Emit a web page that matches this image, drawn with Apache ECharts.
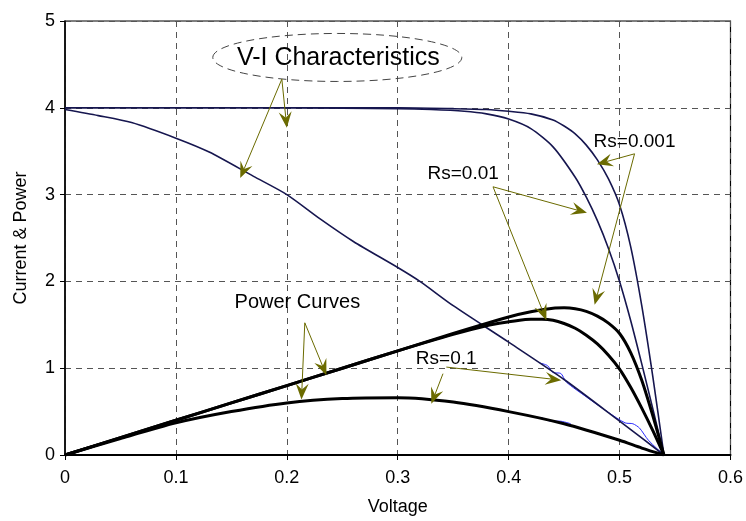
<!DOCTYPE html>
<html><head><meta charset="utf-8">
<script src="https://cdn.jsdelivr.net/npm/echarts@6/dist/echarts.min.js"></script>
<style>html,body{margin:0;padding:0;background:#fff}#c{width:746px;height:521px}</style>
</head><body><div id="c"></div>
<script>
// ---- data ----
const xTickLabels = ['0', '0.1', '0.2', '0.3', '0.4', '0.5', '0.6'];
const yTickLabels = ['0', '1', '2', '3', '4', '5'];

const ivVoltsRs0001 = [0, 0.1, 0.2, 0.3, 0.35, 0.38, 0.4, 0.42, 0.44, 0.45, 0.46, 0.47, 0.48, 0.49, 0.50, 0.51, 0.52, 0.53, 0.54];
const ivAmpsRs0001  = [4.0, 4.0, 4.0, 4.0, 3.99, 3.98, 3.96, 3.93, 3.86, 3.79, 3.70, 3.57, 3.40, 3.18, 2.88, 2.40, 1.72, 0.9, 0];

const ivVoltsRs001 = [0, 0.1, 0.2, 0.3, 0.33, 0.36, 0.38, 0.40, 0.42, 0.44, 0.46, 0.47, 0.48, 0.49, 0.50, 0.51, 0.52, 0.53, 0.54];
const ivAmpsRs001  = [4.0, 4.0, 4.0, 3.99, 3.98, 3.96, 3.93, 3.87, 3.76, 3.55, 3.2, 2.97, 2.7, 2.38, 2.0, 1.55, 1.05, 0.53, 0];

const ivVoltsRs01 = [0, 0.03, 0.06, 0.1, 0.13, 0.17, 0.2, 0.23, 0.26, 0.3, 0.32, 0.35, 0.4, 0.45, 0.5, 0.54];
const ivAmpsRs01  = [3.98, 3.91, 3.83, 3.65, 3.49, 3.21, 3.0, 2.72, 2.46, 2.16, 2.0, 1.72, 1.3, 0.87, 0.39, 0];

const pVoltsRs0001 = [0, 0.05, 0.1, 0.15, 0.2, 0.25, 0.3, 0.35, 0.4, 0.42, 0.44, 0.45, 0.46, 0.47, 0.48, 0.49, 0.50, 0.51, 0.52, 0.53, 0.54];
const powerRs0001  = [0, 0.2, 0.4, 0.6, 0.8, 1.0, 1.2, 1.4, 1.59, 1.65, 1.69, 1.695, 1.685, 1.655, 1.6, 1.52, 1.4, 1.18, 0.86, 0.45, 0];

const pVoltsRs001 = [0, 0.05, 0.1, 0.15, 0.2, 0.25, 0.3, 0.35, 0.38, 0.4, 0.41, 0.42, 0.43, 0.44, 0.45, 0.46, 0.47, 0.48, 0.49, 0.50, 0.51, 0.52, 0.53, 0.54];
const powerRs001  = [0, 0.2, 0.4, 0.6, 0.8, 1.0, 1.2, 1.39, 1.49, 1.535, 1.553, 1.563, 1.565, 1.553, 1.515, 1.46, 1.38, 1.28, 1.15, 0.99, 0.78, 0.54, 0.28, 0];

const pVoltsRs01 = [0, 0.05, 0.1, 0.15, 0.2, 0.25, 0.3, 0.35, 0.4, 0.45, 0.5, 0.52, 0.54];
const powerRs01  = [0, 0.19, 0.37, 0.5, 0.6, 0.65, 0.66, 0.61, 0.5, 0.36, 0.17, 0.08, 0];

// thin blue trace that wiggles along the Rs=0.1 curves
const blueVolts = [0.428, 0.435, 0.44, 0.447, 0.452, 0.47, 0.49, 0.505, 0.512, 0.518, 0.526, 0.54];
const blueAmps  = [1.06, 1.03, 0.95, 0.94, 0.84, 0.67, 0.49, 0.37, 0.36, 0.31, 0.17, 0];
const blueVolts2 = [0.43, 0.438, 0.446, 0.456];
const blueAmps2  = [0.43, 0.39, 0.39, 0.36];

// annotations (data coordinates)
const noteTexts = [
  {text: 'V-I Characteristics', at: [0.2464, 4.57], size: 25},
  {text: 'Rs=0.001', at: [0.5135, 3.605], size: 19},
  {text: 'Rs=0.01', at: [0.359, 3.237], size: 19},
  {text: 'Power Curves', at: [0.2095, 1.752], size: 20},
  {text: 'Rs=0.1', at: [0.3437, 1.111], size: 19}
];
const noteArrows = [
  [[0.1955, 4.33], [0.2, 3.77]],
  [[0.1955, 4.33], [0.158, 3.19]],
  [[0.5135, 3.47], [0.4796, 3.35]],
  [[0.5135, 3.47], [0.4775, 1.73]],
  [[0.3859, 3.09], [0.4706, 2.79]],
  [[0.3859, 3.09], [0.434, 1.553]],
  [[0.2162, 1.523], [0.2357, 0.918]],
  [[0.2162, 1.523], [0.2132, 0.64]],
  [[0.3438, 1.013], [0.4474, 0.862]],
  [[0.3408, 0.937], [0.3303, 0.59]]
];
const ellipseCenter = [0.2455, 4.58];

// ---- chart ----
const zip = (a, b) => a.map((v, i) => [v, b[i]]);
const NAVY = '#16164f';
const OLIVE = '#6b6b00';
const FONT = 'Liberation Sans, Arial, sans-serif';

function lineSeries(name, xs, ys, color, width, z) {
  return {
    name, type: 'line', data: zip(xs, ys), showSymbol: false, symbol: 'none',
    smooth: 0.25, z: z || 2,
    lineStyle: {color, width}, silent: true
  };
}

const chart = echarts.init(document.getElementById('c'), null, {renderer: 'canvas'});
chart.setOption({
  animation: false,
  backgroundColor: '#fff',
  grid: {left: 65, right: 15, top: 21, bottom: 60, show: true, borderColor: '#000', borderWidth: 1.2, backgroundColor: 'transparent'},
  xAxis: {
    type: 'value', min: 0, max: 0.6, interval: 0.1,
    name: 'Voltage', nameLocation: 'middle', nameGap: 43,
    nameTextStyle: {fontFamily: FONT, fontSize: 18, color: '#000'},
    axisLine: {show: true, onZero: false, lineStyle: {color: '#000', width: 2}},
    axisTick: {show: true, inside: false, length: 5, lineStyle: {color: '#000'}},
    axisLabel: {fontFamily: FONT, fontSize: 18, color: '#000', margin: 14,
      formatter: (v) => xTickLabels[Math.round(v * 10)]},
    splitLine: {show: true, lineStyle: {color: '#555', width: 1, type: [6, 5]}}
  },
  yAxis: {
    type: 'value', min: 0, max: 5, interval: 1,
    name: 'Current & Power', nameLocation: 'middle', nameGap: 35, nameRotate: 90,
    nameTextStyle: {fontFamily: FONT, fontSize: 18, color: '#000'},
    axisLine: {show: true, onZero: false, lineStyle: {color: '#000', width: 1.5}},
    axisTick: {show: true, inside: false, length: 5, lineStyle: {color: '#000'}},
    axisLabel: {fontFamily: FONT, fontSize: 18, color: '#000', margin: 10,
      formatter: (v) => yTickLabels[Math.round(v)]},
    splitLine: {show: true, lineStyle: {color: '#555', width: 1, type: [6, 5]}}
  },
  series: [
    lineSeries('I-V Rs=0.001', ivVoltsRs0001, ivAmpsRs0001, NAVY, 1.6, 3),
    lineSeries('I-V Rs=0.01', ivVoltsRs001, ivAmpsRs001, NAVY, 1.6, 3),
    lineSeries('blue', blueVolts, blueAmps, '#2b2bff', 1, 2),
    lineSeries('blue2', blueVolts2, blueAmps2, '#2b2bff', 1, 2),
    lineSeries('I-V Rs=0.1', ivVoltsRs01, ivAmpsRs01, NAVY, 1.6, 3),
    lineSeries('P Rs=0.001', pVoltsRs0001, powerRs0001, '#000', 3, 4),
    lineSeries('P Rs=0.01', pVoltsRs001, powerRs001, '#000', 3, 4),
    lineSeries('P Rs=0.1', pVoltsRs01, powerRs01, '#000', 3, 4)
  ]
});

function drawNotes() {
  const px = (p) => chart.convertToPixel({gridIndex: 0}, p);
  const els = [];
  const ec = px(ellipseCenter);
  els.push({type: 'ellipse', z: 20, shape: {cx: ec[0], cy: ec[1], rx: 124.5, ry: 24},
    style: {fill: null, stroke: '#444', lineWidth: 1, lineDash: [8, 5]}});
  noteTexts.forEach(n => {
    const p = px(n.at);
    els.push({type: 'text', z: 21, x: p[0], y: p[1],
      style: {text: n.text, fill: '#000', font: n.size + 'px ' + FONT, align: 'center', verticalAlign: 'middle'}});
  });
  noteArrows.forEach(a => {
    const s = px(a[0]), t = px(a[1]);
    const dx = t[0] - s[0], dy = t[1] - s[1];
    const len = Math.hypot(dx, dy);
    const ux = dx / len, uy = dy / len, nx = -uy, ny = ux;
    const L = 16, W = 6.5, notch = 10;
    const back = [t[0] - ux * L, t[1] - uy * L];
    const mid = [t[0] - ux * notch, t[1] - uy * notch];
    els.push({type: 'line', z: 22, shape: {x1: s[0], y1: s[1], x2: mid[0], y2: mid[1]},
      style: {stroke: OLIVE, lineWidth: 1}});
    els.push({type: 'polygon', z: 23, shape: {points: [
      t, [back[0] + nx * W, back[1] + ny * W], mid, [back[0] - nx * W, back[1] - ny * W]]},
      style: {fill: OLIVE}});
  });
  chart.setOption({graphic: els});
}
drawNotes();
</script>
</body></html>
